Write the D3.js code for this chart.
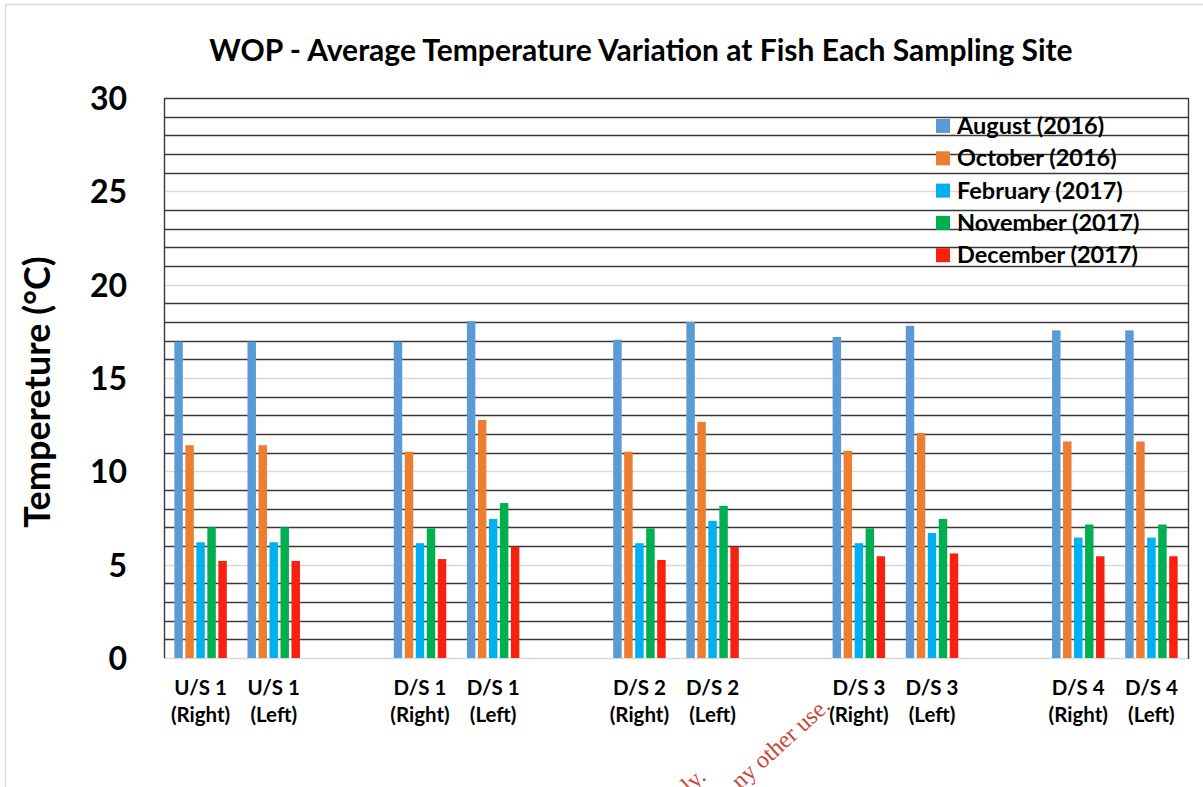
<!DOCTYPE html>
<html>
<head>
<meta charset="utf-8">
<script src="https://cdn.jsdelivr.net/npm/d3@7"></script>
<style>
  body { margin: 0; background: #fff; }
  svg { display: block; font-family: Lato, "Open Sans", sans-serif; }
</style>
</head>
<body>
<svg id="chart" width="1203" height="787"></svg>
<script>
// sites in drawing order (a blank slot sits after every pair)
var siteNames = ["U/S 1", "U/S 1", "D/S 1", "D/S 1", "D/S 2", "D/S 2", "D/S 3", "D/S 3", "D/S 4", "D/S 4"];
var siteSides = ["(Right)", "(Left)", "(Right)", "(Left)", "(Right)", "(Left)", "(Right)", "(Left)", "(Right)", "(Left)"];

var seriesNames = ["August (2016)", "October (2016)", "February (2017)", "November (2017)", "December (2017)"];
var seriesColors = ["#5b9bd5", "#ed7d31", "#00b0f0", "#00b050", "#f8200f"];

var august   = [16.95, 16.95, 16.95, 18.05, 17.05, 18.0, 17.2, 17.8, 17.55, 17.55];
var october  = [11.4, 11.4, 11.05, 12.75, 11.05, 12.65, 11.1, 12.05, 11.6, 11.6];
var february = [6.2, 6.2, 6.15, 7.45, 6.15, 7.35, 6.15, 6.7, 6.45, 6.45];
var november = [7.0, 7.0, 6.95, 8.3, 6.95, 8.15, 6.95, 7.45, 7.15, 7.15];
var december = [5.2, 5.2, 5.3, 5.95, 5.25, 5.95, 5.45, 5.6, 5.45, 5.45];

var yTicks = [0, 5, 10, 15, 20, 25, 30];

var values = [august, october, february, november, december];

var svg = d3.select("#chart");

// outer chart frame
svg.append("rect")
	.attr("x", 5.5).attr("y", 4.5)
	.attr("width", 1250).attr("height", 850)
	.attr("fill", "#fff")
	.attr("stroke", "#d9d9d9")
	.attr("stroke-width", 1.5);

var plotLeft = 164, plotRight = 1188, plotTop = 98, plotBottom = 658;

// slot keys: site slots plus empty gap slots between pairs
var slotKeys = [];
siteNames.forEach(function(d, i) {
	slotKeys.push("s" + i);
	if (i % 2 == 1 && i < siteNames.length - 1) slotKeys.push("gap" + i);
});

var x0 = d3.scaleBand().domain(slotKeys).range([plotLeft, plotRight]).padding(0);
var x1 = d3.scaleBand().domain(seriesNames).range([0, x0.bandwidth()])
	.paddingInner(0.23).paddingOuter(0.94);
var y = d3.scaleLinear().domain([0, 30]).range([plotBottom, plotTop]);

// gridlines: every unit, light at the labelled ticks
var grid = svg.append("g").attr("class", "grid");
var gridVals = d3.range(0, 31);
grid.selectAll("line")
	.data(gridVals)
	.enter()
	.append("line")
		.attr("x1", plotLeft)
		.attr("x2", plotRight)
		.attr("y1", function(d) { return Math.round(y(d)) + 0.5; })
		.attr("y2", function(d) { return Math.round(y(d)) + 0.5; })
		.attr("stroke", function(d) { return (d % 5 == 0 && d != 30) ? "#d9d9d9" : "#3a3a3a"; })
		.attr("stroke-width", function(d) { return (d % 5 == 0 && d != 30) ? 1.5 : 1.4; });

// left and right borders
svg.append("line")
	.attr("x1", plotLeft + 0.5).attr("x2", plotLeft + 0.5)
	.attr("y1", plotTop).attr("y2", plotBottom)
	.attr("stroke", "#3a3a3a").attr("stroke-width", 1.4);
svg.append("line")
	.attr("x1", plotRight + 0.5).attr("x2", plotRight + 0.5)
	.attr("y1", plotTop).attr("y2", plotBottom + 1)
	.attr("stroke", "#3a3a3a").attr("stroke-width", 1.4);

// bars
var groups = svg.append("g")
	.selectAll("g")
	.data(siteNames)
	.enter()
	.append("g")
		.attr("transform", function(d, i) { return "translate(" + x0("s" + i) + ",0)"; });

groups.selectAll("rect")
	.data(function(d, i) {
		return seriesNames.map(function(s, k) { return { key: s, value: values[k][i], color: seriesColors[k] }; });
	})
	.enter()
	.append("rect")
		.attr("x", function(d) { return x1(d.key); })
		.attr("width", x1.bandwidth())
		.attr("y", function(d) { return y(d.value); })
		.attr("height", function(d) { return y(0) - y(d.value); })
		.attr("fill", function(d) { return d.color; });

// y axis labels
var yAxis = d3.axisLeft(y).tickValues(yTicks).tickSize(0).tickPadding(0);
var yg = svg.append("g")
	.attr("transform", "translate(127,0)")
	.call(yAxis);
yg.select(".domain").remove();
yg.selectAll("text")
	.attr("font-family", "Lato, sans-serif")
	.attr("font-size", 32)
	.attr("font-weight", "bold")
	.attr("fill", "#000")
	.attr("dy", "0.36em");

// x axis labels (two lines)
var xl = svg.append("g");
siteNames.forEach(function(name, i) {
	var cx = x0("s" + i) + x0.bandwidth() / 2;
	var t = xl.append("text")
		.attr("x", cx)
		.attr("text-anchor", "middle")
		.attr("font-size", 20.5)
		.attr("font-weight", "bold")
		.attr("fill", "#000");
	t.append("tspan").attr("x", cx).attr("y", 695).text(name);
	t.append("tspan").attr("x", cx).attr("y", 722).text(siteSides[i]);
});

// title
svg.append("text")
	.attr("x", 641)
	.attr("y", 61)
	.attr("text-anchor", "middle")
	.attr("font-size", 30)
	.attr("font-weight", "bold")
	.attr("fill", "#000")
	.text("WOP - Average Temperature Variation at Fish Each Sampling Site");

// y axis title
svg.append("text")
	.attr("transform", "translate(50,392) rotate(-90)")
	.attr("text-anchor", "middle")
	.attr("font-size", 36)
	.attr("font-weight", "bold")
	.attr("fill", "#000")
	.text("Tempereture (°C)");

// legend
var legend = svg.append("g")
	.selectAll("g")
	.data(seriesNames)
	.enter()
	.append("g")
		.attr("transform", function(d, i) { return "translate(936," + (126 + i * 32.3) + ")"; });
legend.append("rect")
	.attr("x", 0).attr("y", -7)
	.attr("width", 14).attr("height", 14)
	.attr("fill", function(d, i) { return seriesColors[i]; });
legend.append("text")
	.attr("x", 21)
	.attr("y", 8)
	.attr("font-size", 23.5)
	.attr("font-weight", "bold")
	.attr("fill", "#000")
	.text(function(d) { return d; });

// watermark fragments
var wm = svg.append("g")
	.attr("font-family", "'Liberation Serif', serif")
	.attr("font-size", 24)
	.attr("fill", "#c8473a");
wm.append("text")
	.attr("transform", "translate(690,794) rotate(-42)")
	.text("ly.");
wm.append("text")
	.attr("transform", "translate(740,790) rotate(-42)")
	.text("ny other use.");
</script>
</body>
</html>
